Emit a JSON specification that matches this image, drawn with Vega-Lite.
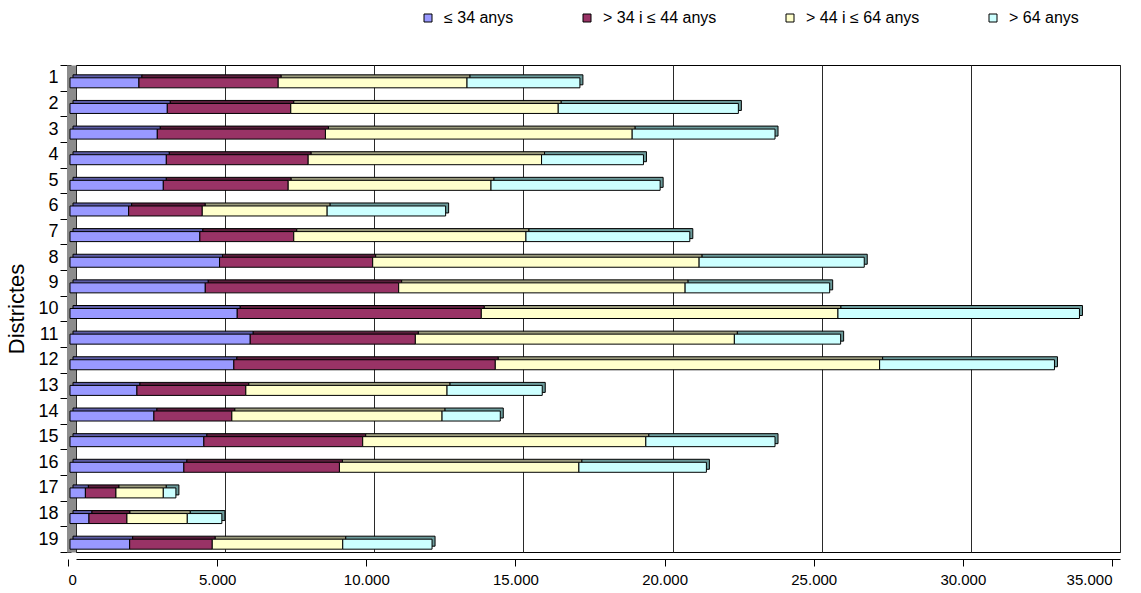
{
  "$schema": "https://vega.github.io/schema/vega-lite/v6.json",
  "width": 1044,
  "height": 487,
  "autosize": {"type": "none"},
  "padding": {"left": 76, "top": 65, "right": 21, "bottom": 41},
  "background": "white",
  "config": {
    "view": {"stroke": "black", "strokeWidth": 1},
    "font": "Liberation Sans"
  },
  "data": {
    "values": [
      {"d": 1, "g": "≤ 34 anys", "k": 1, "v": 2311}, {"d": 1, "g": "> 34 i ≤ 44 anys", "k": 2, "v": 4669}, {"d": 1, "g": "> 44 i ≤ 64 anys", "k": 3, "v": 6330}, {"d": 1, "g": "> 64 anys", "k": 4, "v": 3785},
      {"d": 2, "g": "≤ 34 anys", "k": 1, "v": 3262}, {"d": 2, "g": "> 34 i ≤ 44 anys", "k": 2, "v": 4140}, {"d": 2, "g": "> 44 i ≤ 64 anys", "k": 3, "v": 8966}, {"d": 2, "g": "> 64 anys", "k": 4, "v": 6039},
      {"d": 3, "g": "≤ 34 anys", "k": 1, "v": 2927}, {"d": 3, "g": "> 34 i ≤ 44 anys", "k": 2, "v": 5637}, {"d": 3, "g": "> 44 i ≤ 64 anys", "k": 3, "v": 10283}, {"d": 3, "g": "> 64 anys", "k": 4, "v": 4789},
      {"d": 4, "g": "≤ 34 anys", "k": 1, "v": 3229}, {"d": 4, "g": "> 34 i ≤ 44 anys", "k": 2, "v": 4756}, {"d": 4, "g": "> 44 i ≤ 64 anys", "k": 3, "v": 7824}, {"d": 4, "g": "> 64 anys", "k": 4, "v": 3416},
      {"d": 5, "g": "≤ 34 anys", "k": 1, "v": 3128}, {"d": 5, "g": "> 34 i ≤ 44 anys", "k": 2, "v": 4187}, {"d": 5, "g": "> 44 i ≤ 64 anys", "k": 3, "v": 6799}, {"d": 5, "g": "> 64 anys", "k": 4, "v": 5670},
      {"d": 6, "g": "≤ 34 anys", "k": 1, "v": 1966}, {"d": 6, "g": "> 34 i ≤ 44 anys", "k": 2, "v": 2468}, {"d": 6, "g": "> 44 i ≤ 64 anys", "k": 3, "v": 4187}, {"d": 6, "g": "> 64 anys", "k": 4, "v": 3972},
      {"d": 7, "g": "≤ 34 anys", "k": 1, "v": 4354}, {"d": 7, "g": "> 34 i ≤ 44 anys", "k": 2, "v": 3148}, {"d": 7, "g": "> 44 i ≤ 64 anys", "k": 3, "v": 7784}, {"d": 7, "g": "> 64 anys", "k": 4, "v": 5493},
      {"d": 8, "g": "≤ 34 anys", "k": 1, "v": 5014}, {"d": 8, "g": "> 34 i ≤ 44 anys", "k": 2, "v": 5134}, {"d": 8, "g": "> 44 i ≤ 64 anys", "k": 3, "v": 10943}, {"d": 8, "g": "> 64 anys", "k": 4, "v": 5536},
      {"d": 9, "g": "≤ 34 anys", "k": 1, "v": 4535}, {"d": 9, "g": "> 34 i ≤ 44 anys", "k": 2, "v": 6484}, {"d": 9, "g": "> 44 i ≤ 64 anys", "k": 3, "v": 9603}, {"d": 9, "g": "> 64 anys", "k": 4, "v": 4846},
      {"d": 10, "g": "≤ 34 anys", "k": 1, "v": 5607}, {"d": 10, "g": "> 34 i ≤ 44 anys", "k": 2, "v": 8182}, {"d": 10, "g": "> 44 i ≤ 64 anys", "k": 3, "v": 11957}, {"d": 10, "g": "> 64 anys", "k": 4, "v": 8096},
      {"d": 11, "g": "≤ 34 anys", "k": 1, "v": 6042}, {"d": 11, "g": "> 34 i ≤ 44 anys", "k": 2, "v": 5536}, {"d": 11, "g": "> 44 i ≤ 64 anys", "k": 3, "v": 10695}, {"d": 11, "g": "> 64 anys", "k": 4, "v": 3563},
      {"d": 12, "g": "≤ 34 anys", "k": 1, "v": 5493}, {"d": 12, "g": "> 34 i ≤ 44 anys", "k": 2, "v": 8765}, {"d": 12, "g": "> 44 i ≤ 64 anys", "k": 3, "v": 12885}, {"d": 12, "g": "> 64 anys", "k": 4, "v": 5861},
      {"d": 13, "g": "≤ 34 anys", "k": 1, "v": 2244}, {"d": 13, "g": "> 34 i ≤ 44 anys", "k": 2, "v": 3651}, {"d": 13, "g": "> 44 i ≤ 64 anys", "k": 3, "v": 6745}, {"d": 13, "g": "> 64 anys", "k": 4, "v": 3192},
      {"d": 14, "g": "≤ 34 anys", "k": 1, "v": 2813}, {"d": 14, "g": "> 34 i ≤ 44 anys", "k": 2, "v": 2613}, {"d": 14, "g": "> 44 i ≤ 64 anys", "k": 3, "v": 7047}, {"d": 14, "g": "> 64 anys", "k": 4, "v": 1952},
      {"d": 15, "g": "≤ 34 anys", "k": 1, "v": 4488}, {"d": 15, "g": "> 34 i ≤ 44 anys", "k": 2, "v": 5325}, {"d": 15, "g": "> 44 i ≤ 64 anys", "k": 3, "v": 9492}, {"d": 15, "g": "> 64 anys", "k": 4, "v": 4331},
      {"d": 16, "g": "≤ 34 anys", "k": 1, "v": 3818}, {"d": 16, "g": "> 34 i ≤ 44 anys", "k": 2, "v": 5215}, {"d": 16, "g": "> 44 i ≤ 64 anys", "k": 3, "v": 8028}, {"d": 16, "g": "> 64 anys", "k": 4, "v": 4274},
      {"d": 17, "g": "≤ 34 anys", "k": 1, "v": 516}, {"d": 17, "g": "> 34 i ≤ 44 anys", "k": 2, "v": 1025}, {"d": 17, "g": "> 44 i ≤ 64 anys", "k": 3, "v": 1587}, {"d": 17, "g": "> 64 anys", "k": 4, "v": 422},
      {"d": 18, "g": "≤ 34 anys", "k": 1, "v": 636}, {"d": 18, "g": "> 34 i ≤ 44 anys", "k": 2, "v": 1273}, {"d": 18, "g": "> 44 i ≤ 64 anys", "k": 3, "v": 2023}, {"d": 18, "g": "> 64 anys", "k": 4, "v": 1159},
      {"d": 19, "g": "≤ 34 anys", "k": 1, "v": 2000}, {"d": 19, "g": "> 34 i ≤ 44 anys", "k": 2, "v": 2769}, {"d": 19, "g": "> 44 i ≤ 64 anys", "k": 3, "v": 4375}, {"d": 19, "g": "> 64 anys", "k": 4, "v": 2994}
    ]
  },
  "encoding": {
    "y": {
      "field": "d",
      "type": "ordinal",
      "scale": {"paddingInner": 0, "paddingOuter": 0},
      "axis": {
        "title": "Districtes",
        "titleFont": "Liberation Sans",
        "titleFontSize": 22,
        "titleFontWeight": "normal",
        "titleColor": "black",
        "titlePadding": 9,
        "labelFont": "Liberation Sans",
        "labelFontSize": 18,
        "labelColor": "black",
        "labelPadding": 2,
        "labelAngle": 0,
        "tickBand": "extent",
        "tickOffset": 6,
        "tickSize": 11,
        "tickColor": "black",
        "offset": 5,
        "domainColor": "#8c8c8c",
        "domainWidth": 9,
        "grid": false
      }
    }
  },
  "layer": [
    {
      "mark": {"type": "bar", "size": 10, "xOffset": -3, "yOffset": 2, "stroke": "black", "strokeWidth": 1},
      "encoding": {
        "x": {
          "field": "v",
          "type": "quantitative",
          "stack": "zero",
          "scale": {"domain": [0, 35000], "nice": false},
          "axis": {
            "orient": "bottom",
            "grid": true,
            "gridColor": "#2a2a2a",
            "gridWidth": 1,
            "labels": false,
            "ticks": false,
            "domain": false,
            "title": null,
            "values": [0, 5000, 10000, 15000, 20000, 25000, 30000, 35000]
          }
        },
        "color": {
          "field": "g",
          "type": "nominal",
          "scale": {
            "domain": ["≤ 34 anys", "> 34 i ≤ 44 anys", "> 44 i ≤ 64 anys", "> 64 anys"],
            "range": ["#5c5ca6", "#5a1e3c", "#9a9a7c", "#6b9a9a"]
          },
          "legend": null
        },
        "order": {"field": "k", "type": "quantitative"}
      }
    },
    {
      "mark": {"type": "bar", "size": 10, "xOffset": -6, "yOffset": 5, "stroke": "black", "strokeWidth": 1},
      "encoding": {
        "x": {
          "field": "v",
          "type": "quantitative",
          "stack": "zero",
          "scale": {"domain": [0, 35000], "nice": false},
          "axis": {
            "orient": "bottom",
            "grid": false,
            "offset": 7,
            "tickOffset": -8,
            "tickSize": 7,
            "tickColor": "black",
            "domainColor": "black",
            "labelFont": "Liberation Sans",
            "labelFontSize": 15,
            "labelColor": "black",
            "labelPadding": 6,
            "title": null,
            "values": [0, 5000, 10000, 15000, 20000, 25000, 30000, 35000],
            "labelExpr": "replace(format(datum.value, ',.0f'), ',', '.')"
          }
        },
        "color": {
          "field": "g",
          "type": "nominal",
          "scale": {
            "domain": ["≤ 34 anys", "> 34 i ≤ 44 anys", "> 44 i ≤ 64 anys", "> 64 anys"],
            "range": ["#9999ff", "#993366", "#ffffcc", "#ccffff"]
          },
          "legend": {
            "orient": "none",
            "legendX": 344,
            "legendY": -55,
            "direction": "horizontal",
            "title": null,
            "padding": 0,
            "symbolType": "square",
            "symbolSize": 64,
            "symbolStrokeColor": "black",
            "symbolStrokeWidth": 1,
            "labelFont": "Liberation Sans",
            "labelFontSize": 16,
            "labelColor": "black",
            "labelOffset": 8,
            "columnPadding": 65
          }
        },
        "order": {"field": "k", "type": "quantitative"}
      }
    }
  ],
  "resolve": {"axis": {"x": "independent"}, "scale": {"color": "independent"}}
}
